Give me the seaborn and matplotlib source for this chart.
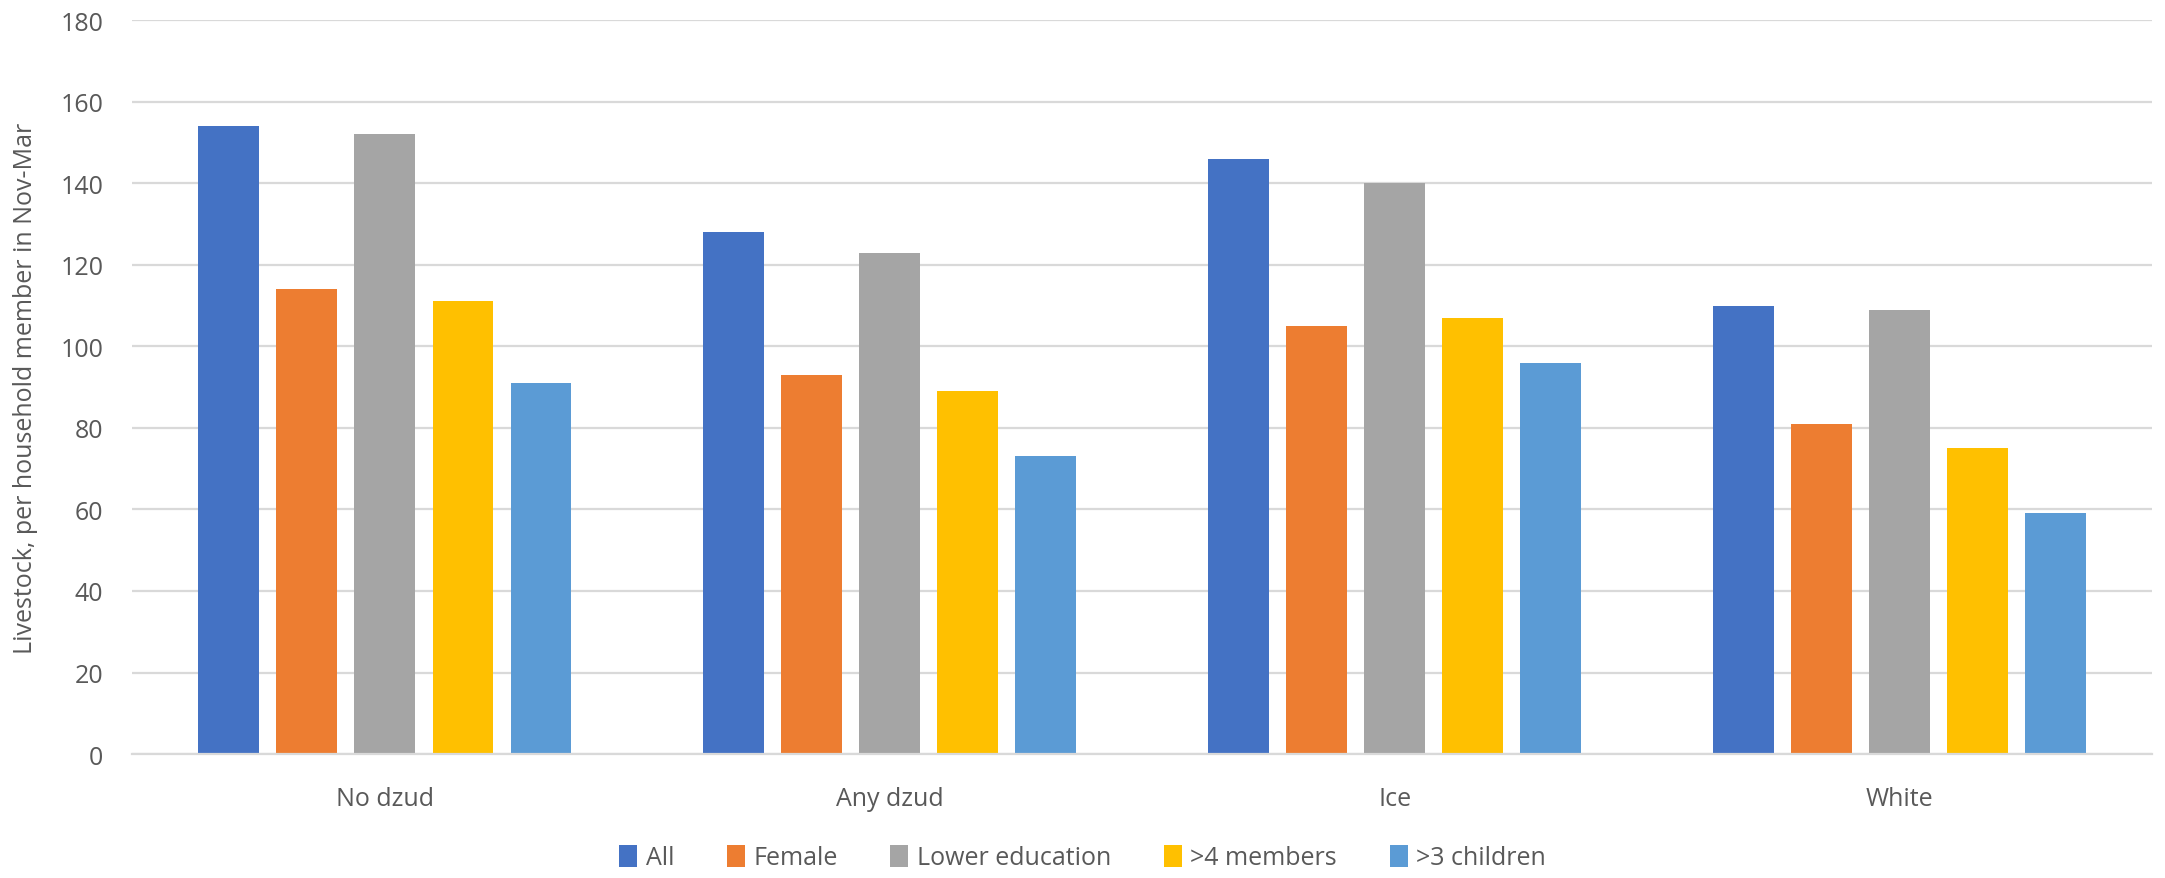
import matplotlib
matplotlib.use("Agg")
import matplotlib.pyplot as plt
import seaborn as sns
import pandas as pd
from matplotlib.patches import Patch

categories = ["No dzud", "Any dzud", "Ice", "White"]
groups = ["All", "Female", "Lower education", ">4 members", ">3 children"]
all_hh = [154, 128, 146, 110]
female = [114, 93, 105, 81]
lower_edu = [152, 123, 140, 109]
large_hh = [111, 89, 107, 75]
many_children = [91, 73, 96, 59]
y_ticks = [0, 20, 40, 60, 80, 100, 120, 140, 160, 180]

colors = ["#4472C4", "#ED7D31", "#A5A5A5", "#FFC000", "#5B9BD5"]
text_color = "#595959"
grid_color = "#D9D9D9"

series = [all_hh, female, lower_edu, large_hh, many_children]
rows = []
for g, vals in zip(groups, series):
    for c, v in zip(categories, vals):
        rows.append({"category": c, "group": g, "value": v})
df = pd.DataFrame(rows)

sns.set_theme(style="white")
plt.rcParams["font.family"] = ["Open Sans", "DejaVu Sans"]
fs = 18

fig = plt.figure(figsize=(21.65, 8.79), dpi=100)
ax = fig.add_axes([0.0612, 0.141, 0.9328, 0.835])

sns.barplot(data=df, x="category", y="value", hue="group", order=categories,
            hue_order=groups, palette=colors, width=0.773, gap=0.22,
            linewidth=0, saturation=1, errorbar=None, ax=ax, legend=False)

ax.set_ylim(0, 180)
ax.set_yticks(y_ticks)
ax.set_xlim(-0.5, len(categories) - 0.5)
ax.yaxis.grid(True, color=grid_color, linewidth=1.6)
ax.set_axisbelow(True)
for side in ["top", "right", "left"]:
    ax.spines[side].set_visible(False)
ax.spines["bottom"].set_color(grid_color)
ax.spines["bottom"].set_linewidth(1.6)

ax.tick_params(axis="y", length=0, pad=21, labelsize=fs, labelcolor=text_color)
ax.tick_params(axis="x", length=0, pad=23, labelsize=fs, labelcolor=text_color)
ax.set_xlabel("")
ax.set_ylabel("Livestock, per household member in Nov-Mar", fontsize=fs, color=text_color)
ax.yaxis.set_label_coords(-0.0466, 0.5)

handles = [Patch(facecolor=c, edgecolor="none") for c in colors]
fig.legend(handles, groups, loc="center", bbox_to_anchor=(0.5, 0.023), ncol=5,
           frameon=False, fontsize=fs, labelcolor=text_color,
           handlelength=0.72, handleheight=0.95, handletextpad=0.35, columnspacing=2.1)

fig.savefig("out.png", dpi=100)
